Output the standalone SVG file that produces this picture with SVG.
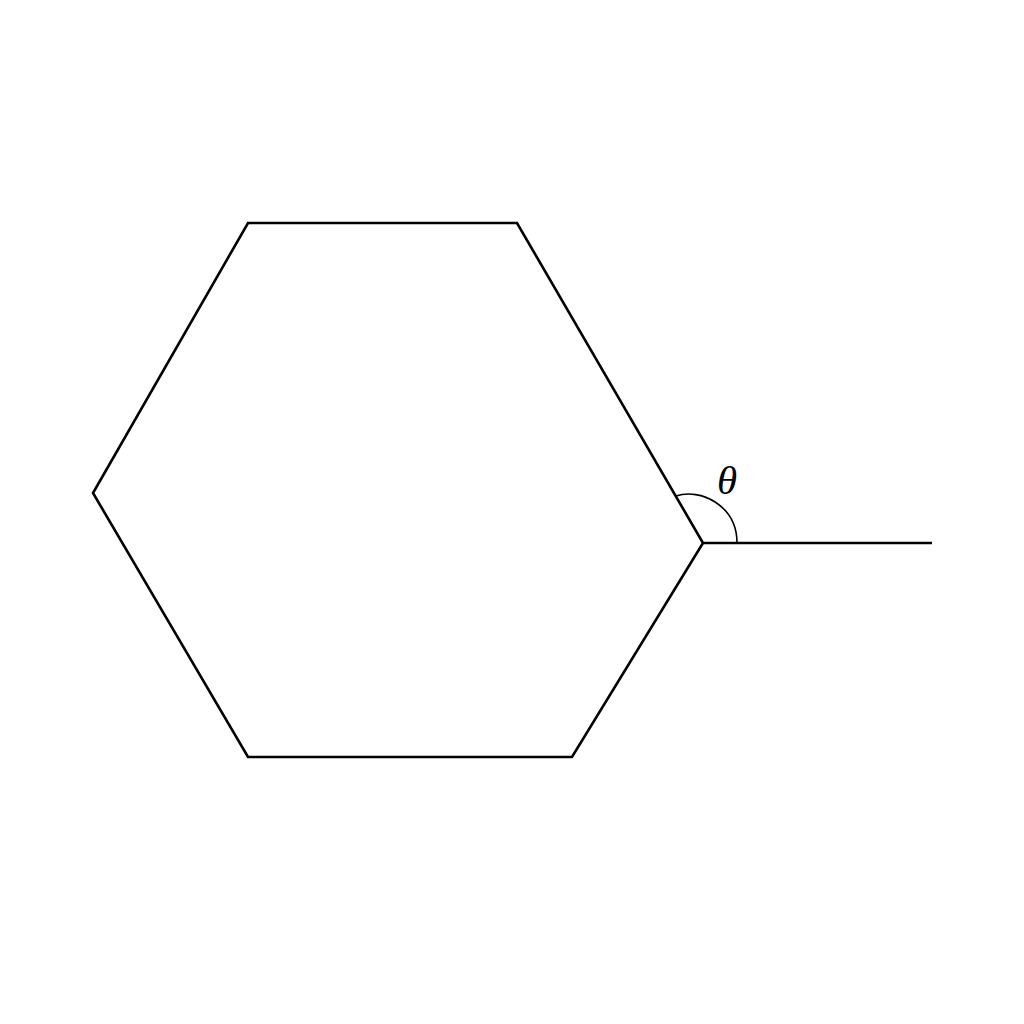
<svg xmlns="http://www.w3.org/2000/svg" width="1024" height="1024" viewBox="0 0 1024 1024">
<style>
.ln{fill:none;stroke:#000;stroke-width:2.6;stroke-linejoin:miter}
.arc{fill:none;stroke:#000;stroke-width:1.6}
.lbl{font-family:"Liberation Serif","DejaVu Serif",serif;font-style:italic;font-size:41px;fill:#000}
</style>
<rect width="1024" height="1024" fill="#fff"/>
<g id="hexagon">
<polygon class="ln" points="248,223 517,223 703,543 572,757 248,757 93,493"/>
</g>
<g id="connectors">
<line class="ln" x1="703" y1="543" x2="932" y2="543"/>
<path class="arc" d="M676,496 C700,488 737,505 737,543"/>
</g>
<g id="label">
<text class="lbl" x="727" y="494" text-anchor="middle">θ</text>
</g>
</svg>
